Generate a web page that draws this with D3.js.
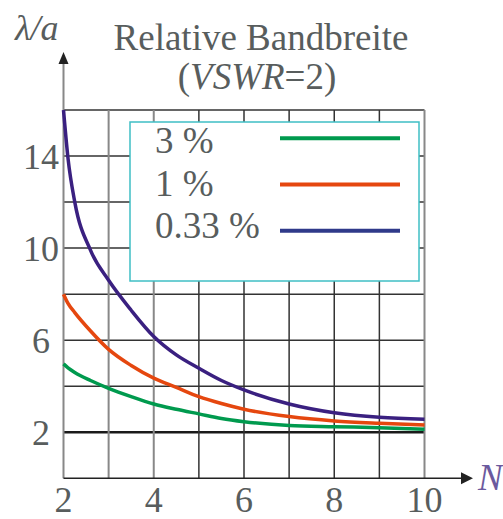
<!DOCTYPE html>
<html lang="de">
<head>
<meta charset="UTF-8">
<title>Relative Bandbreite</title>
<style>
    body { margin: 0; background: #fff; }
    svg text { font-family: 'Liberation Serif', 'DejaVu Serif', serif; fill: #585d5d; }
    .grid-dark { stroke: #333; stroke-width: 1.5; }
    .grid-gray { stroke: #888; stroke-width: 2; }
    .curve { fill: none; stroke-width: 3.5; stroke-linejoin: round; }
</style>
</head>
<body>
<div id="chart"></div>
<script src="https://d3js.org/d3.v7.min.js"></script>
<script>
    const width = 503;
    const height = 519;

    // values
    const nValues = [2, 2.1, 2.25, 2.6, 3, 3.5, 4, 4.5, 5, 5.5, 6, 7, 8, 9, 10];
    const bw3 =    [4.97, 4.8, 4.6, 4.25, 3.91, 3.55, 3.23, 3.0, 2.8, 2.6, 2.46, 2.29, 2.24, 2.2, 2.13];
    const bw1 =    [8.0, 7.6, 7.2, 6.4, 5.6, 4.9, 4.35, 3.95, 3.55, 3.25, 3.0, 2.68, 2.49, 2.39, 2.32];
    const bw033 =  [16.0, 13.9, 12.0, 9.9, 8.6, 7.3, 6.16, 5.36, 4.78, 4.25, 3.84, 3.23, 2.85, 2.65, 2.57];

    const seriesNames = ["3 %", "1 %", "0.33 %"];
    const seriesData = [bw3, bw1, bw033];
    const curveColors = ["#009a4e", "#e5470f", "#3a2080"];
    const legendColors = ["#009a4e", "#e5470f", "#2f3a8a"];

    const xTicks = [2, 4, 6, 8, 10];
    const yTicks = [2, 6, 10, 14];
    const xGrid = [2, 3, 4, 5, 6, 7, 8, 9, 10];
    const yGrid = [2, 4, 6, 8, 10, 12, 14, 16];
    const grayCols = [2, 3, 4, 10];

    const svg = d3.select("#chart").append("svg")
        .attr("width", width)
        .attr("height", height);

    const x = d3.scaleLinear().domain([2, 10]).range([63.5, 424.5]);
    const y = d3.scaleLinear().domain([0, 16]).range([478.3, 110]);

    // grid
    svg.selectAll(".hgrid")
        .data(yGrid)
        .enter().append("line")
        .attr("class", "grid-dark")
        .attr("x1", x(2)).attr("x2", x(10))
        .attr("y1", d => y(d)).attr("y2", d => y(d))
        .style("stroke-width", d => d === 2 ? 2.5 : 1.5)
        .style("stroke", d => d === 2 ? "#1a1a1a" : null);

    svg.selectAll(".vgrid")
        .data(xGrid.slice(1))
        .enter().append("line")
        .attr("class", d => grayCols.includes(d) ? "grid-gray" : "grid-dark")
        .attr("x1", d => x(d)).attr("x2", d => x(d))
        .attr("y1", y(16)).attr("y2", y(0));

    // axes with arrows
    svg.append("line")
        .attr("x1", x(2)).attr("x2", x(2))
        .attr("y1", y(0)).attr("y2", 62)
        .attr("stroke", "#888").attr("stroke-width", 2);
    svg.append("path")
        .attr("d", `M${x(2) - 5},64 L${x(2)},52 L${x(2) + 5},64 Z`)
        .attr("fill", "#222");

    svg.append("line")
        .attr("x1", x(2)).attr("x2", 462)
        .attr("y1", y(0)).attr("y2", y(0))
        .attr("stroke", "#222").attr("stroke-width", 1.5);
    svg.append("path")
        .attr("d", `M461,${y(0) - 6} L473,${y(0)} L461,${y(0) + 6} Z`)
        .attr("fill", "#222");

    // legend box
    svg.append("rect")
        .attr("x", 130).attr("y", 122)
        .attr("width", 289).attr("height", 159)
        .attr("fill", "#fff")
        .attr("stroke", "#3fbfc5").attr("stroke-width", 1.5);

    seriesNames.forEach((name, i) => {
        svg.append("text")
            .attr("x", 155).attr("y", 153 + i * 42.5)
            .attr("font-size", 37)
            .text(name);
        svg.append("line")
            .attr("x1", 280).attr("x2", 400)
            .attr("y1", 138.3 + i * 46.2).attr("y2", 138.3 + i * 46.2)
            .attr("stroke", legendColors[i]).attr("stroke-width", 4);
    });

    // curves
    const line = d3.line()
        .x((d, i) => x(nValues[i]))
        .y(d => y(d))
        .curve(d3.curveMonotoneX);

    svg.selectAll(".curve")
        .data(seriesData)
        .enter().append("path")
        .attr("class", "curve")
        .attr("d", d => line(d))
        .attr("stroke", (d, i) => curveColors[i]);

    // tick labels
    svg.selectAll(".ytick")
        .data(yTicks)
        .enter().append("text")
        .attr("x", 41).attr("y", d => y(d) + 12.5)
        .attr("text-anchor", "middle")
        .attr("font-size", 36)
        .text(d => d);

    svg.selectAll(".xtick")
        .data(xTicks)
        .enter().append("text")
        .attr("x", d => x(d)).attr("y", 512)
        .attr("text-anchor", "middle")
        .attr("font-size", 36)
        .text(d => d);

    // titles
    svg.append("text")
        .attr("x", 261).attr("y", 50)
        .attr("text-anchor", "middle")
        .attr("font-size", 37)
        .text("Relative Bandbreite");

    const sub = svg.append("text")
        .attr("x", 257).attr("y", 89)
        .attr("text-anchor", "middle")
        .attr("font-size", 37);
    sub.append("tspan").text("(");
    sub.append("tspan").attr("font-style", "italic").text("VSWR");
    sub.append("tspan").text("=2)");

    svg.append("text")
        .attr("x", 15).attr("y", 40)
        .attr("font-size", 36)
        .attr("font-style", "italic")
        .text("λ/a");

    svg.append("text")
        .attr("x", 478).attr("y", 490)
        .attr("font-size", 37)
        .attr("font-style", "italic")
        .style("fill", "#6b5a9e")
        .text("N");
</script>
</body>
</html>
